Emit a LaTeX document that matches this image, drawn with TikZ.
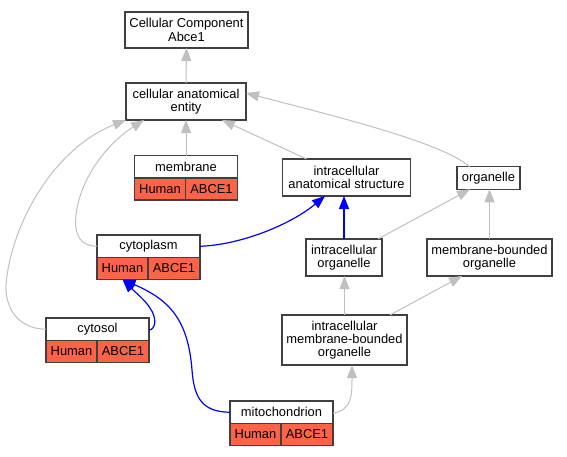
\documentclass[tikz,border=0pt]{standalone}
\usepackage{fontspec}
\setmainfont{Liberation Sans}
\usetikzlibrary{arrows.meta}
\definecolor{bordergray}{HTML}{404040}
\definecolor{edgegray}{HTML}{C0C0C0}
\definecolor{cellred}{HTML}{FC6347}
\tikzset{
  base/.style={draw=bordergray, line width=1.3pt, inner sep=0pt, outer sep=0pt, align=center,
    font=\fontsize{12.9}{13.3}\selectfont, text=black},
  term/.style={base, fill=white},
  gtitle/.style={base, fill=white, minimum width=103pt, minimum height=22.5pt, anchor=north west},
  gcell/.style={base, fill=cellred, minimum height=22pt},
  arr/.style={-{Triangle[length=13pt, width=10pt]}, line width=1pt},
  gedge/.style={arr, draw=edgegray},
  bedge/.style={arr, draw=blue, line width=1.2pt},
}
\newcommand{\genebox}[4]{%
  \node[gtitle] (#1) at (#3,#4) {#2};
  \node[gcell, anchor=north west, minimum width=51pt] (#1H) at (#1.south west) {Human};
  \node[gcell, anchor=north east, minimum width=52pt] (#1A) at (#1.south east) {ABCE1};
}
\begin{document}
\begin{tikzpicture}[x=1pt,y=-1pt]
\useasboundingbox (0,0) rectangle (567,456);
% terms
\node[term, minimum width=123pt, minimum height=36pt] (cc) at (186.5,30) {Cellular Component\\Abce1};
\node[term, minimum width=120pt, minimum height=37pt] (cae) at (186,101.5) {cellular anatomical\\entity};
\node[term, minimum width=128pt, minimum height=37pt] (ias) at (346.5,177.5) {intracellular\\anatomical structure};
\node[term, minimum width=63pt, minimum height=22.5pt] (org) at (488.5,178) {organelle};
\node[term, minimum width=76pt, minimum height=37pt] (io) at (344,257.5) {intracellular\\organelle};
\node[term, minimum width=125pt, minimum height=37pt] (mbo) at (489.5,257.5) {membrane-bounded\\organelle};
\node[term, minimum width=125pt, minimum height=50pt] (imbo) at (344.5,340) {intracellular\\membrane-bounded\\organelle};
% gene product boxes
\genebox{mem}{membrane}{134.5}{155.5}
\genebox{cyto}{cytoplasm}{97}{235}
\genebox{cysol}{cytosol}{46}{318}
\genebox{mito}{mitochondrion}{230}{401}
% gray edges
\draw[gedge] (cae.north) -- (cc.south);
\draw[gedge] (mem.north) -- (mem.north |- cae.south);
\draw[gedge] ([xshift=24pt]ias.north west) -- ([xshift=36pt]cae.south);
\draw[gedge] ([xshift=-19pt]org.north) .. controls (442,142) and (330,115) .. ([yshift=8.5pt]cae.east);
\draw[gedge] (cyto.west) .. controls (80,246) and (74,235) .. (76,215) .. controls (80,180) and (105,145) .. ([xshift=-42pt]cae.south);
\draw[gedge] (cysol.west) .. controls (20,329) and (5,310) .. (6,285) .. controls (10,230) and (50,150) .. (cae.south west);
\draw[gedge] ([xshift=34pt]io.north) -- ([xshift=-18.5pt]org.south);
\draw[gedge] (mbo.north) -- (mbo.north |- org.south);
\draw[gedge] (imbo.north) -- (imbo.north |- io.south);
\draw[gedge] ([xshift=45.5pt]imbo.north) -- ([xshift=-27.5pt]mbo.south);
\draw[gedge] ([yshift=-1pt]mito.east) .. controls (352,410) and (352,395) .. ([xshift=7.5pt]imbo.south);
% blue edges
\draw[bedge] (cyto.east) .. controls (240,245) and (290,225) .. ([xshift=-21.5pt]ias.south);
\draw[bedge] (io.north) -- (io.north |- ias.south);
\draw[bedge] ([yshift=-1pt]cysol.east) .. controls (156,329) and (157,318) .. (150,308) .. controls (145,300) and (135,292) .. (cytoH.south);
\draw[bedge] (mito.west) .. controls (200,412) and (194,395) .. (192,370) .. controls (188,320) and (170,300) .. (cytoH.south);
\end{tikzpicture}
\end{document}
